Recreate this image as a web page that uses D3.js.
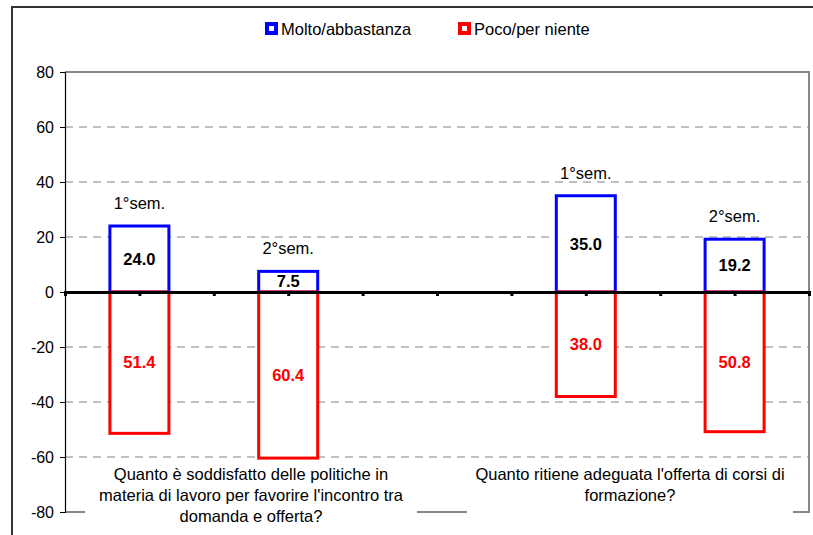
<!DOCTYPE html>
<html>
<head>
<meta charset="utf-8">
<script src="https://cdn.jsdelivr.net/npm/d3@7"></script>
<style>
    body { margin: 0; background: #fff; }
    text { font-family: "Liberation Sans", Arial, sans-serif; }
</style>
</head>
<body>
<div id="chart"></div>
<script>
// chart data
let seriesNames = ['Molto/abbastanza', 'Poco/per niente'];
let seriesColors = ['#0000ff', '#ff0000'];
let slots = [1, 3, 7, 9];              // category slot of each bar pair (of 0..10)
let periods = ['1°sem.', '2°sem.', '1°sem.', '2°sem.'];
let positive = [24.0, 7.5, 35.0, 19.2];
let negative = [51.4, 60.4, 38.0, 50.8];
let yTicks = [-80, -60, -40, -20, 0, 20, 40, 60, 80];
let questions = [
    ['Quanto è soddisfatto delle politiche in', 'materia di lavoro per favorire l\'incontro tra', 'domanda e offerta?'],
    ['Quanto ritiene adeguata l\'offerta di corsi di', 'formazione?']
];

let width = 813, height = 535;
let plot = { left: 65, right: 809, top: 72, bottom: 512 };
let barWidth = 59;
let fontSize = '16.5px';

let svg = d3.select('#chart')
    .append('svg')
    .attr('width', width)
    .attr('height', height);

let x = d3.scalePoint()
    .domain(d3.range(0, 11))
    .range([plot.left, plot.right]);

let y = d3.scaleLinear()
    .domain([-80, 80])
    .range([plot.bottom, plot.top]);

// outer frame
svg.append('path')
    .attr('d', `M12,${height + 5} L12,7 L${width + 5},7`)
    .attr('fill', 'none')
    .attr('stroke', '#333')
    .attr('stroke-width', 2);

// gridlines
svg.append('g')
    .selectAll('line')
    .data(yTicks.filter(d => d !== 0 && Math.abs(d) !== 80))
    .enter().append('line')
    .attr('x1', plot.left)
    .attr('x2', plot.right)
    .attr('y1', d => y(d))
    .attr('y2', d => y(d))
    .attr('stroke', '#808080')
    .attr('stroke-width', 1)
    .attr('stroke-dasharray', '8,6');

// plot border (top, right, bottom)
svg.append('path')
    .attr('d', `M${plot.left},${y(80)} L${plot.right},${y(80)} L${plot.right},${y(-80)} L${plot.left},${y(-80)}`)
    .attr('fill', 'none')
    .attr('stroke', '#888')
    .attr('stroke-width', 2);

// y axis
let yAxis = svg.append('g')
    .attr('transform', `translate(${plot.left},0)`)
    .call(d3.axisLeft(y).tickValues(yTicks).tickSize(5).tickPadding(6).tickFormat(d => String(d)));
yAxis.select('.domain').attr('stroke', '#000').attr('stroke-width', 1.2);
yAxis.selectAll('.tick line').attr('stroke', '#000');
yAxis.selectAll('.tick text')
    .attr('fill', '#000')
    .style('font-size', '16px')
    .style('font-family', '"Liberation Sans", Arial, sans-serif');

// bars
let bars = svg.append('g');
bars.selectAll('.pos')
    .data(positive)
    .enter().append('rect')
    .attr('class', 'pos')
    .attr('x', (d, i) => x(slots[i]) - barWidth / 2)
    .attr('y', d => y(d))
    .attr('width', barWidth)
    .attr('height', d => y(0) - y(d))
    .attr('fill', '#fff')
    .attr('stroke', seriesColors[0])
    .attr('stroke-width', 3);

bars.selectAll('.neg')
    .data(negative)
    .enter().append('rect')
    .attr('class', 'neg')
    .attr('x', (d, i) => x(slots[i]) - barWidth / 2)
    .attr('y', y(0))
    .attr('width', barWidth)
    .attr('height', d => y(-d) - y(0))
    .attr('fill', '#fff')
    .attr('stroke', seriesColors[1])
    .attr('stroke-width', 3);

// zero axis
let xAxis = svg.append('g')
    .attr('transform', `translate(0,${y(0)})`)
    .call(d3.axisBottom(x).tickSize(4).tickFormat(''));
xAxis.select('.domain').attr('stroke', '#000').attr('stroke-width', 3);
xAxis.selectAll('.tick line').attr('stroke', '#000').attr('stroke-width', 3);

// value labels
svg.append('g')
    .selectAll('text')
    .data(positive)
    .enter().append('text')
    .attr('x', (d, i) => x(slots[i]))
    .attr('y', d => (y(d) + y(0)) / 2)
    .attr('dy', '0.35em')
    .attr('text-anchor', 'middle')
    .style('font-size', fontSize)
    .style('font-weight', 'bold')
    .attr('fill', '#000')
    .text(d => d.toFixed(1));

svg.append('g')
    .selectAll('text')
    .data(negative)
    .enter().append('text')
    .attr('x', (d, i) => x(slots[i]))
    .attr('y', d => (y(-d) + y(0)) / 2)
    .attr('dy', '0.35em')
    .attr('text-anchor', 'middle')
    .style('font-size', fontSize)
    .style('font-weight', 'bold')
    .attr('fill', seriesColors[1])
    .text(d => d.toFixed(1));

// period labels above bars
svg.append('g')
    .selectAll('text')
    .data(periods)
    .enter().append('text')
    .attr('x', (d, i) => x(slots[i]))
    .attr('y', (d, i) => y(positive[i]) - 17)
    .attr('text-anchor', 'middle')
    .style('font-size', fontSize)
    .attr('fill', '#000')
    .text(d => d);

// question labels (white boxes over bottom border)
let boxes = [[85, 417], [467, 793]];
questions.forEach(function (lines, qi) {
    let x0 = boxes[qi][0], x1 = boxes[qi][1];
    let cx = (x0 + x1) / 2;
    let g = svg.append('g');
    g.append('rect')
        .attr('x', x0)
        .attr('y', y(-60) + 3)
        .attr('width', x1 - x0)
        .attr('height', 70)
        .attr('fill', '#fff');
    g.selectAll('text')
        .data(lines)
        .enter().append('text')
        .attr('x', cx)
        .attr('y', (d, i) => y(-60) + 23 + i * 21)
        .attr('text-anchor', 'middle')
        .style('font-size', fontSize)
        .attr('fill', '#000')
        .text(d => d);
});

// legend
let legendX = [265, 458];
let legend = svg.append('g');
seriesNames.forEach(function (name, i) {
    legend.append('rect')
        .attr('x', legendX[i] + 2)
        .attr('y', 24)
        .attr('width', 9)
        .attr('height', 9)
        .attr('fill', '#fff')
        .attr('stroke', seriesColors[i])
        .attr('stroke-width', 4);
    legend.append('text')
        .attr('x', legendX[i] + 16)
        .attr('y', 35)
        .style('font-size', fontSize)
        .attr('fill', '#000')
        .text(name);
});
</script>
</body>
</html>
